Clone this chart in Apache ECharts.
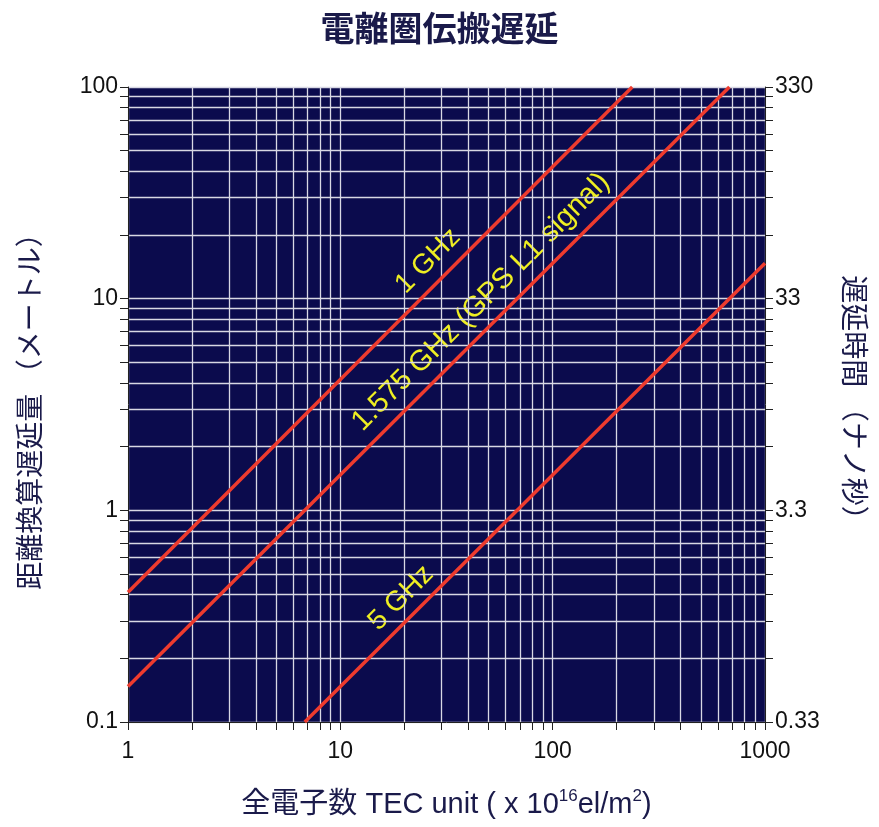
<!DOCTYPE html>
<html>
<head>
    <meta charset="utf-8">
    <title>index</title>
    <style>
        html, body { margin: 0; padding: 0; background: #fff; }
        #container { width: 879px; height: 827px; }
    </style>
</head>
<body>
    <div id="container"></div>
<script src="https://cdn.jsdelivr.net/npm/echarts@6/dist/echarts.min.js"></script>
<script type="text/javascript">
    // end points of each line (TEC unit, metres)
    var line1GHz = [[1, 0.41], [237, 100]];
    var lineGPS = [[1, 0.147], [680, 100]];
    var line5GHz = [[6.8, 0.1], [1000, 14.7]];

    var xLabels = [1, 10, 100, 1000];
    var yLabels = [0.1, 1, 10, 100];
    var rightLabels = ['0.33', '3.3', '33', '330'];

    // grid / tick positions: 1..9 per decade
    function decadeTicks(from, to) {
        var out = [];
        for (var d = from; d < to; d *= 10) {
            for (var k = 1; k < 10; k++) out.push(+(k * d).toPrecision(3));
        }
        out.push(to);
        return out;
    }
    var xTicks = decadeTicks(1, 1000);
    var yTicks = decadeTicks(0.1, 100);

    var navy = '#0b0b4d';
    var font = '"Liberation Sans", Arial, sans-serif';
    var cjk = '"Noto Sans CJK JP", sans-serif';
    var mixed = '"Liberation Sans", "Noto Sans CJK JP", sans-serif';

    var dom = document.getElementById('container'),
        myChart = echarts.init(dom),
        option = {
            backgroundColor: '#fff',
            animation: false,
            title: {
                text: '電離圏伝搬遅延',
                left: 'center',
                top: 6,
                textStyle: { fontFamily: cjk, fontSize: 34, fontWeight: 'bold', color: '#1a1a4a' }
            },
            grid: { left: 128, right: 114, top: 87, bottom: 105, backgroundColor: navy, show: true, borderWidth: 0 },
            xAxis: {
                type: 'log', min: 1, max: 1000,
                name: '{a|全電子数 TEC unit ( x 10}{s|16}{a|el/m}{s|2}{a|)}',
                nameLocation: 'middle', nameGap: 66,
                nameTextStyle: {
                    rich: {
                        a: { fontFamily: mixed, fontSize: 29, color: '#1a1a4a', verticalAlign: 'bottom' },
                        s: { fontFamily: font, fontSize: 17, color: '#1a1a4a', verticalAlign: 'top', padding: [0, 0, 14, 0] }
                    }
                },
                axisLine: { show: true, lineStyle: { color: '#222', width: 1 } },
                axisTick: { show: true, customValues: xTicks, length: 8, lineStyle: { color: '#222' } },
                axisLabel: {
                    customValues: xLabels, fontFamily: font, fontSize: 23, color: '#111', margin: 18,
                    formatter: function (v) { return String(Math.round(v)); }
                },
                splitLine: { show: true, lineStyle: { color: '#d8d8e4', width: 1.3 } }
            },
            yAxis: [{
                type: 'log', min: 0.1, max: 100,
                name: '距離換算遅延量 （メートル）',
                nameLocation: 'middle', nameGap: 85,
                nameTextStyle: { fontFamily: cjk, fontSize: 28, color: '#1a1a4a' },
                axisLine: { show: true, lineStyle: { color: '#222', width: 1 } },
                axisTick: { show: true, customValues: yTicks, length: 8, lineStyle: { color: '#222' } },
                axisLabel: {
                    customValues: yLabels, fontFamily: font, fontSize: 23, color: '#111', margin: 10,
                    formatter: function (v) { return String(+v.toPrecision(3)); }
                },
                splitLine: { show: true, lineStyle: { color: '#d8d8e4', width: 1.3 } }
            }, {
                type: 'log', min: 0.1, max: 100, position: 'right',
                name: '遅延時間 （ナノ秒）',
                nameLocation: 'middle', nameGap: 76, nameRotate: -90,
                nameTextStyle: { fontFamily: cjk, fontSize: 28, color: '#1a1a4a' },
                axisLine: { show: true, lineStyle: { color: '#222', width: 1 } },
                axisTick: { show: true, customValues: yTicks, length: 8, lineStyle: { color: '#222' } },
                axisLabel: {
                    customValues: yLabels, fontFamily: font, fontSize: 23, color: '#111', margin: 10,
                    formatter: function (v) { return rightLabels[yLabels.indexOf(+v.toPrecision(3))]; }
                },
                splitLine: { show: false }
            }],
            series: [line1GHz, lineGPS, line5GHz].map(function (d) {
                return {
                    type: 'line', data: d, symbol: 'none',
                    lineStyle: { color: '#ee3b2e', width: 3.5 }
                };
            }),
            graphic: [
                { type: 'text', x: 428, y: 261, rotation: Math.PI / 4,
                  style: { text: '1 GHz', fill: '#eeee22', font: '28px ' + font, align: 'center', verticalAlign: 'middle' } },
                { type: 'text', x: 481, y: 302, rotation: Math.PI / 4,
                  style: { text: '1.575 GHz (GPS L1 signal)', fill: '#eeee22', font: '29px ' + font, align: 'center', verticalAlign: 'middle' } },
                { type: 'text', x: 401, y: 598, rotation: Math.PI / 4,
                  style: { text: '5 GHz', fill: '#eeee22', font: '28px ' + font, align: 'center', verticalAlign: 'middle' } }
            ]
        };
    myChart.setOption(option, true);
</script>
</body>
</html>
